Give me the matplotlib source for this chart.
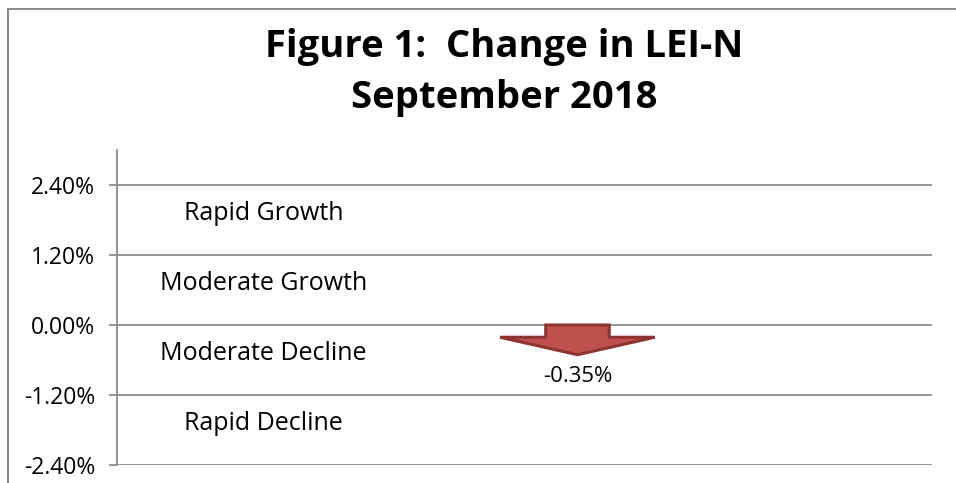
import matplotlib.pyplot as plt
from matplotlib.patches import Polygon, Rectangle

# data
title_lines = ["Figure 1:  Change in LEI-N", "September 2018"]
change_value = -0.35
y_ticks = [-2.4, -1.2, 0.0, 1.2, 2.4]
y_limits = [-2.4, 3.0]
zone_names = ["Rapid Growth", "Moderate Growth", "Moderate Decline", "Rapid Decline"]
zone_mids = [1.8, 0.6, -0.6, -1.8]

plt.rcParams['font.family'] = ['Open Sans', 'DejaVu Sans']

fig = plt.figure(figsize=(9.56, 4.83), dpi=100)

# outer chart frame (only top and left show in the crop)
fig.patches.append(Rectangle((8 / 956, -0.1), 1.2, 1 - 9 / 483 + 0.1,
                             transform=fig.transFigure, fill=False,
                             edgecolor='#8c8c8c', linewidth=1.5))

ax = fig.add_axes([117 / 956, (483 - 465) / 483, (932 - 117) / 956, (465 - 150) / 483])
ax.set_xlim(0, 1)
ax.set_ylim(*y_limits)

# gridlines
for t in y_ticks:
    ax.axhline(t, color='#8c8c8c', linewidth=1.3, zorder=1)

for s in ['top', 'right', 'bottom']:
    ax.spines[s].set_visible(False)
ax.spines['left'].set_color('#8c8c8c')
ax.spines['left'].set_linewidth(1.3)

ax.set_yticks(y_ticks)
ax.set_yticklabels([f"{t:.2f}%" for t in y_ticks], fontsize=16.5)
ax.tick_params(axis='y', length=5.8, width=1.3, color='#8c8c8c', pad=10)
ax.set_xticks([])

# zone labels
for name, mid in zip(zone_names, zone_mids):
    ax.text(0.18, mid, name, ha='center', va='baseline', fontsize=18)

# arrow shape hanging from the zero line, pointing the way of the change
xc = 0.565
shaft_half = 0.039
head_half = 0.095
sign = -1 if change_value < 0 else 1
shaft_end = sign * 0.21
tip = sign * 0.51
arrow = Polygon([(xc - shaft_half, 0), (xc + shaft_half, 0),
                 (xc + shaft_half, shaft_end), (xc + head_half, shaft_end),
                 (xc, tip), (xc - head_half, shaft_end),
                 (xc - shaft_half, shaft_end)],
                closed=True, facecolor='#c0504d', edgecolor='#8e3533',
                linewidth=2.2, zorder=3)
ax.add_patch(arrow)
ax.text(xc, sign * 0.89, f"{change_value:.2f}%", ha='center',
        va='center', fontsize=16)

fig.text(0.527, 1 - 57 / 483, title_lines[0], ha='center', va='baseline',
         fontsize=27.5, fontweight='bold')
fig.text(0.527, 1 - 108 / 483, title_lines[1], ha='center', va='baseline',
         fontsize=27.5, fontweight='bold')

fig.savefig('out.png', dpi=100)
